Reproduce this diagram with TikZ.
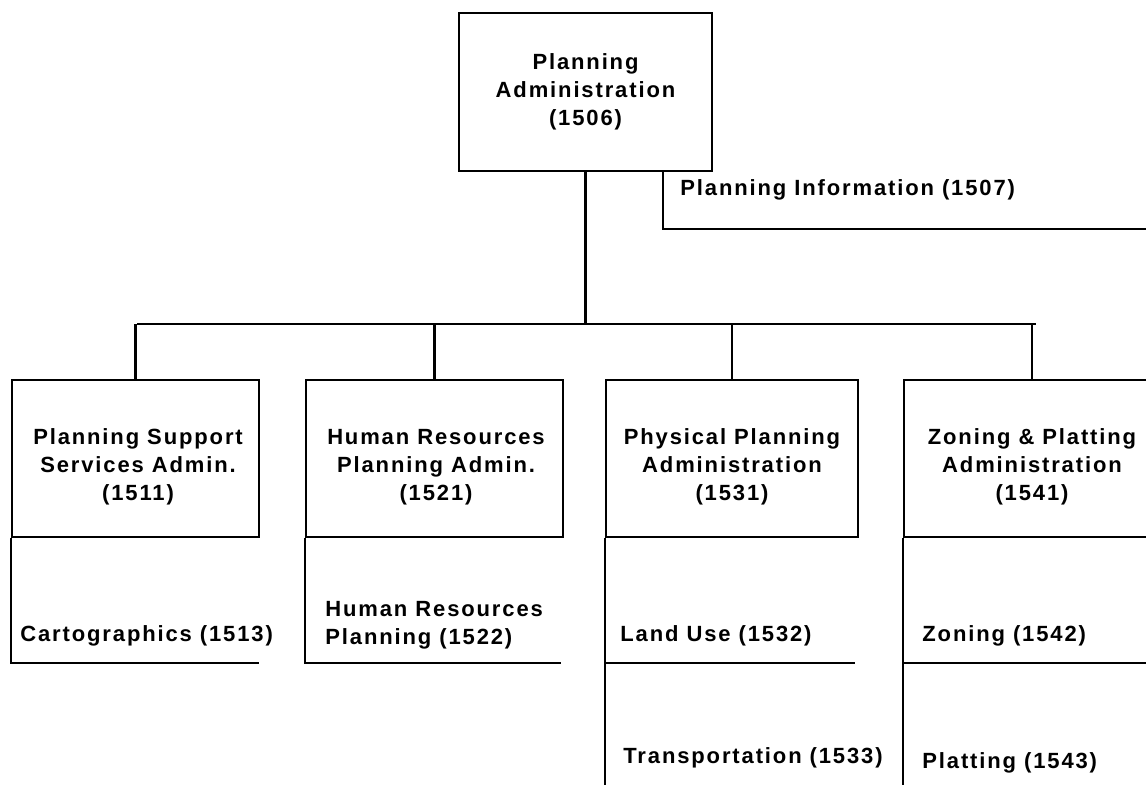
\documentclass[tikz,border=0pt]{standalone}
\usepackage{fontspec}
\newfontfamily\lblfont{Liberation Sans}[LetterSpace=8.5]
\begin{document}
\begin{tikzpicture}[x=0.5pt,y=-0.5pt,
  every node/.style={font=\lblfont\bfseries\fontsize{11pt}{14pt}\selectfont, inner sep=0pt},
  unitbox/.style={draw, line width=1.2pt},
  boxtext/.style={align=center},
  sublabel/.style={anchor=west, align=left},
  conn/.style={line width=1.2pt}]
\useasboundingbox (0,0) rectangle (1146,785);
\clip (0,0) rectangle (1146,785);
% top box
\node[unitbox, align=center, minimum width=126.5pt, minimum height=79pt] (top) at (585.5,92) {Planning\\Administration\\(1506)};
% second level boxes
\node[unitbox, minimum width=123.5pt, minimum height=78.5pt] (b1) at (135.5,458.5) {};
\node[unitbox, minimum width=128.5pt, minimum height=78.5pt] (b2) at (434.5,458.5) {};
\node[unitbox, minimum width=126pt, minimum height=78.5pt] (b3) at (732,458.5) {};
\node[unitbox, minimum width=128pt, minimum height=78.5pt] (b4) at (1032,458.5) {};
\node[boxtext] (b1t) at (138,467) {Planning Support\\Services Admin.\\(1511)};
\node[boxtext] (b2t) at (436,467) {Human Resources\\Planning Admin.\\(1521)};
\node[boxtext] (b3t) at (732,467) {Physical Planning\\Administration\\(1531)};
\node[boxtext] (b4t) at (1032,467) {Zoning \& Platting\\Administration\\(1541)};
% bar coordinates
\coordinate (barL) at (137,324);
\coordinate (barR) at (1036,324);
\coordinate (infoEnd) at (1146,229);
% main connectors
\draw[conn] (top.south) -- (top.south |- barL);
\draw[conn] (barL) -- (barR);
\draw[conn] (b1.north) -- (b1.north |- barL);
\draw[conn] (b2.north) -- (b2.north |- barL);
\draw[conn] (b3.north) -- (b3.north |- barL);
\draw[conn] (b4.north) -- (b4.north |- barL);
% planning information
\draw[conn] ([xshift=38.75pt]top.south) |- (infoEnd);
\node[sublabel] (pi) at (680,190) {Planning Information (1507)};
% sub-unit lines
\coordinate (c1) at (259,663);
\coordinate (c2) at (561,663);
\coordinate (c3) at (855,663);
\coordinate (c4) at (1146,663);
\coordinate (bottom) at (0,785);
\draw[conn] (b1.south west) |- (c1);
\draw[conn] (b2.south west) |- (c2);
\draw[conn] (b3.south west) -- (b3.south west |- bottom);
\draw[conn] (b3.south west |- c3) -- (c3);
\draw[conn] (b4.south west) -- (b4.south west |- bottom);
\draw[conn] (b4.south west |- c4) -- (c4);
% sub-unit labels
\node[sublabel] (s1513) at (20,636) {Cartographics (1513)};
\node[sublabel] (s1522) at (325,625) {Human Resources\\Planning (1522)};
\node[sublabel] (s1532) at (620,636) {Land Use (1532)};
\node[sublabel] (s1533) at (623,758) {Transportation (1533)};
\node[sublabel] (s1542) at (922,636) {Zoning (1542)};
\node[sublabel] (s1543) at (922,763) {Platting (1543)};
\end{tikzpicture}
\end{document}
